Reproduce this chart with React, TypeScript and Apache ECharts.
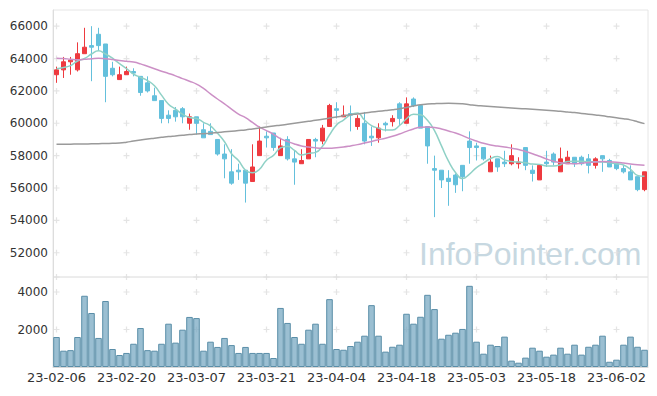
import React, { useEffect, useRef } from "react";
import * as echarts from "echarts";

const dates = [
  "23-02-06","23-02-07","23-02-08","23-02-09","23-02-10","23-02-13","23-02-14","23-02-15","23-02-16","23-02-17",
  "23-02-20","23-02-21","23-02-22","23-02-23","23-02-24","23-02-27","23-02-28","23-03-02","23-03-03","23-03-06",
  "23-03-07","23-03-08","23-03-09","23-03-10","23-03-13","23-03-14","23-03-15","23-03-16","23-03-17","23-03-20",
  "23-03-21","23-03-22","23-03-23","23-03-24","23-03-27","23-03-28","23-03-29","23-03-30","23-03-31","23-04-03",
  "23-04-04","23-04-05","23-04-06","23-04-07","23-04-10","23-04-11","23-04-12","23-04-13","23-04-14","23-04-17",
  "23-04-18","23-04-19","23-04-20","23-04-21","23-04-24","23-04-25","23-04-26","23-04-27","23-04-28","23-05-02",
  "23-05-03","23-05-04","23-05-08","23-05-09","23-05-10","23-05-11","23-05-12","23-05-15","23-05-16","23-05-17",
  "23-05-18","23-05-19","23-05-22","23-05-23","23-05-24","23-05-25","23-05-26","23-05-30","23-05-31","23-06-01",
  "23-06-02","23-06-05","23-06-07","23-06-08","23-06-09",
];

const opens = [
  63000,63300,63800,63300,64300,64800,65500,64900,63400,62700,
  63000,63200,62900,62500,61700,61400,60500,60800,60900,60000,
  60400,59600,59500,59000,58100,57000,57100,57100,56400,58000,
  59200,59400,58000,59000,57800,57500,57800,59000,58900,59800,
  60900,60400,60600,59800,60000,59200,59100,60000,60100,61200,
  60000,61500,61100,59800,57200,57100,56600,56800,57400,58900,
  58600,58500,57000,57800,57600,57500,57500,58500,57100,56500,
  57600,58100,57000,57500,57900,57900,57800,57400,58000,57700,
  57500,57200,57000,56700,55900,
];
const closes = [
  63300,63800,63900,64300,64700,64700,64800,62900,63000,63000,
  63200,63100,61900,62000,61400,60300,60300,60400,60400,60400,
  60000,59100,59300,58100,57800,56300,57000,56300,57300,58900,
  59100,58500,58600,57800,57600,57700,59000,58900,59700,61100,
  60800,60500,60500,60300,58900,59100,59700,59900,60300,60300,
  61200,61100,59700,58600,57100,56500,56400,56200,56700,58500,
  58500,57800,57600,57300,57500,58000,57600,57400,56900,57400,
  57500,57600,57800,57900,57500,57500,57400,57800,57800,57300,
  57200,57000,56500,55900,57000,
];
const lows = [
  62500,62800,63000,63200,64300,62600,64500,61300,62900,62700,
  63000,62900,61700,61900,61400,60000,60000,60100,60000,59600,
  59300,59100,59300,58000,56600,56200,56500,55100,56400,58000,
  58500,58300,58000,57700,56200,57500,57800,57900,58700,59800,
  60300,60400,59500,59600,58700,58600,58800,59500,59800,59900,
  60000,61000,59700,57500,54200,56000,54900,55700,55800,57500,
  57700,57700,57000,57000,57300,57400,57200,57100,56400,56500,
  57300,57400,57000,57500,57300,57400,56900,57200,57000,57300,
  57100,56900,56500,55800,55800,
];
const highs = [
  63500,64100,64100,65000,65900,66000,65900,64900,63800,63500,
  63500,63400,62900,62900,62200,61400,60800,61000,61000,60600,
  60400,60000,60000,59000,58700,58400,57500,57100,58700,59800,
  59500,59400,59100,59200,58300,58400,59000,59100,59900,61200,
  61300,61100,61100,60500,60700,59800,60000,60100,60500,61300,
  61600,61600,61100,59800,58000,57100,57100,56900,57400,59500,
  58800,58500,58000,57800,58300,58700,57900,58500,57400,57400,
  58300,58200,58500,58300,57900,58000,58100,57900,58000,57800,
  57600,57400,57400,56700,57000,
];
const volumes = [
  1600,870,900,1600,3800,2880,1550,3520,960,640,
  750,1240,2080,900,870,1240,2310,1300,1990,2670,
  2610,870,1350,1070,1550,1170,750,1070,750,750,
  750,480,3150,2350,1600,1240,1990,2310,1240,3620,
  960,920,1120,1350,1670,3300,1670,820,1080,1190,
  2840,2310,2680,3850,3090,1510,1720,1830,2030,4330,
  1350,710,1190,1120,1620,340,230,500,1030,870,
  550,660,1030,710,1190,660,1080,1190,1670,280,
  390,1190,1620,1080,920,
];
const ma5 = [
  63370,63450,63560,63850,64000,64280,64480,64280,64020,63680,
  63380,63040,62840,62640,62320,61740,61180,60880,60560,60360,
  60300,60060,59840,59380,58860,58120,57700,57100,56940,57160,
  57720,58020,58480,58580,58320,58040,58140,58200,58580,59280,
  59900,60200,60520,60640,60200,59860,59700,59580,59580,59860,
  60280,60560,60520,60180,59540,58600,57660,56960,56580,56860,
  57260,57540,57820,57940,57740,57640,57600,57560,57480,57460,
  57360,57360,57440,57640,57660,57660,57620,57620,57600,57560,
  57500,57420,57160,56780,56720,
];
const ma20 = [
  64025,64000,63960,63930,63950,63990,64020,63990,63940,63880,
  63830,63780,63670,63520,63370,63220,63080,62930,62760,62600,
  62420,62150,61820,61500,61200,60880,60570,60350,60050,59760,
  59550,59320,59050,58880,58720,58600,58530,58480,58460,58460,
  58490,58530,58600,58680,58780,58880,58980,59080,59200,59340,
  59500,59650,59750,59770,59740,59650,59520,59400,59240,59050,
  58900,58760,58660,58590,58540,58460,58380,58260,58120,57960,
  57790,57650,57560,57510,57500,57530,57570,57610,57630,57620,
  57590,57540,57480,57430,57400,
];
const ma60 = [
  58700,58705,58710,58715,58720,58730,58740,58750,58765,58780,
  58830,58900,58960,59030,59080,59130,59180,59220,59260,59300,
  59330,59360,59390,59430,59470,59510,59550,59590,59650,59710,
  59770,59830,59880,59940,60000,60060,60120,60180,60250,60320,
  60390,60460,60530,60580,60640,60690,60740,60790,60840,60900,
  60980,61070,61150,61190,61210,61225,61230,61225,61200,61150,
  61100,61070,61040,61010,60980,60950,60920,60890,60860,60830,
  60800,60770,60740,60700,60660,60610,60560,60510,60460,60400,
  60340,60280,60210,60100,59980,
];

const priceTicks = [52000, 54000, 56000, 58000, 60000, 62000, 64000, 66000];
const volumeTicks = [2000, 4000];
const gridColumns = [0, 10, 20, 30, 40, 50, 60, 70, 80];

const PLUS = "path://M2,0H3V2H5V3H3V5H2V3H0V2H2Z";

export default function App() {
  const ref = useRef<HTMLDivElement>(null);
  useEffect(() => {
    document.body.style.margin = "0";
    if (!ref.current) return;
    const chart = echarts.init(ref.current, undefined, { renderer: "svg" });
    const candleData = opens.map((o, i) => [o, closes[i], lows[i], highs[i]]);
    const pricePlus: number[][] = [];
    gridColumns.forEach((c) => [50500, ...priceTicks].forEach((v) => pricePlus.push([c, v])));
    const volPlus: number[][] = [];
    gridColumns.forEach((c) => volumeTicks.forEach((v) => volPlus.push([c, v])));
    const font = "DejaVu Sans";
    const plain = (v: number) => String(v);
    chart.setOption({
      animation: false,
      backgroundColor: "#ffffff",
      textStyle: { fontFamily: font },
      grid: [
        { left: 53, right: 9, top: 10, height: 267, show: true, borderColor: "#e6e6e6", borderWidth: 1, backgroundColor: "transparent" },
        { left: 53, right: 9, top: 277, height: 90, show: true, borderColor: "#e6e6e6", borderWidth: 1, backgroundColor: "transparent" },
      ],
      graphic: [
        {
          type: "text",
          left: 419,
          top: 238,
          z: 0,
          silent: true,
          style: { text: "InfoPointer.com", fontSize: 32, fontFamily: "Liberation Sans", fill: "#c7d8e1" },
        },
      ],
      xAxis: [
        {
          type: "category", data: dates, gridIndex: 0, boundaryGap: true,
          axisLine: { show: false }, axisTick: { show: false }, axisLabel: { show: false }, splitLine: { show: false },
        },
        {
          type: "category", data: dates, gridIndex: 1, boundaryGap: true,
          axisLine: { show: true, lineStyle: { color: "#d8d8d8" } }, axisTick: { show: false },
          axisLabel: { interval: 9, color: "#333", fontSize: 13, margin: 4, fontFamily: font },
          splitLine: { show: false },
        },
      ],
      yAxis: [
        {
          type: "value", gridIndex: 0, min: 50500, max: 67000, scale: true,
          axisLine: { show: true, lineStyle: { color: "#dddddd" } }, axisTick: { show: false },
          splitLine: { show: false },
          axisLabel: { customValues: priceTicks, formatter: plain, color: "#333", fontSize: 12, margin: 5, fontFamily: font },
        },
        {
          type: "value", gridIndex: 1, min: 0, max: 4800,
          axisLine: { show: true, lineStyle: { color: "#dddddd" } }, axisTick: { show: false },
          splitLine: { show: false },
          axisLabel: { customValues: volumeTicks, formatter: plain, color: "#333", fontSize: 12, margin: 5, fontFamily: font },
        },
      ],
      series: [
        {
          type: "scatter", xAxisIndex: 0, yAxisIndex: 0, data: pricePlus, symbol: PLUS, symbolSize: 6,
          itemStyle: { color: "#dddddd" }, silent: true, z: 1,
        },
        {
          type: "scatter", xAxisIndex: 1, yAxisIndex: 1, data: volPlus, symbol: PLUS, symbolSize: 6,
          itemStyle: { color: "#dddddd" }, silent: true, z: 1,
        },
        {
          type: "candlestick", xAxisIndex: 0, yAxisIndex: 0, data: candleData, barWidth: "70%", z: 3,
          itemStyle: { color: "#ee3a3f", color0: "#64c0dc", borderColor: "#ee3a3f", borderColor0: "#64c0dc", borderWidth: 1 },
        },
        {
          type: "line", xAxisIndex: 0, yAxisIndex: 0, data: ma5, smooth: true, showSymbol: false, z: 4,
          lineStyle: { color: "#8fd1c6", width: 1.5 },
        },
        {
          type: "line", xAxisIndex: 0, yAxisIndex: 0, data: ma20, smooth: true, showSymbol: false, z: 4,
          lineStyle: { color: "#cc90c6", width: 1.5 },
        },
        {
          type: "line", xAxisIndex: 0, yAxisIndex: 0, data: ma60, smooth: true, showSymbol: false, z: 4,
          lineStyle: { color: "#9a9a9a", width: 1.5 },
        },
        {
          type: "bar", xAxisIndex: 1, yAxisIndex: 1, data: volumes, barWidth: "94%", z: 3,
          itemStyle: { color: "rgba(122,170,195,0.75)", borderColor: "#5a8ea8", borderWidth: 1 },
        },
      ],
    });
    return () => chart.dispose();
  }, []);
  return <div ref={ref} style={{ width: 657, height: 396 }} />;
}
